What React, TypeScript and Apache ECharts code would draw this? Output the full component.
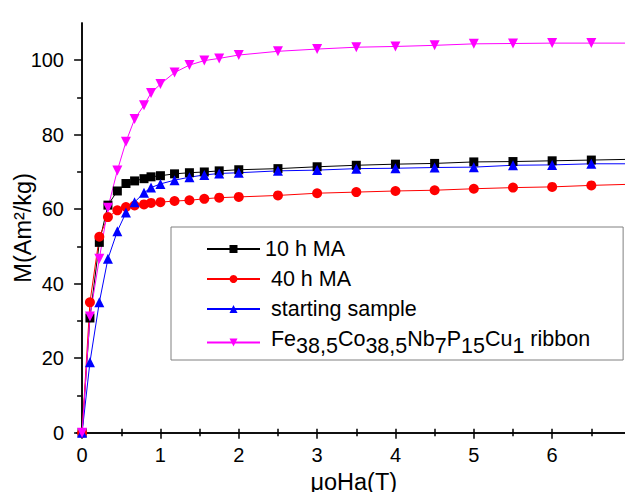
import React, { useEffect, useRef } from "react";
import * as echarts from "echarts";

const fieldT = [0, 0.1, 0.22, 0.33, 0.45, 0.56, 0.67, 0.79, 0.88, 1.0, 1.18, 1.37, 1.56, 1.75, 2.0, 2.5, 3, 3.5, 4, 4.5, 5, 5.5, 6, 6.5, 7];
const ma10 = [0, 30.8, 51.1, 61.1, 64.9, 66.9, 67.6, 68.2, 68.7, 69.0, 69.5, 69.8, 70.0, 70.3, 70.6, 70.9, 71.4, 71.8, 72.1, 72.3, 72.7, 72.8, 73.0, 73.2, 73.4];
const ma40 = [0, 35.0, 52.6, 57.9, 59.7, 60.6, 61.0, 61.3, 61.7, 61.9, 62.2, 62.4, 62.8, 63.1, 63.3, 63.7, 64.3, 64.6, 64.9, 65.1, 65.5, 65.8, 66.0, 66.4, 66.7];
const starting = [0, 18.9, 35.0, 46.7, 54.1, 59.1, 61.9, 64.4, 65.8, 66.8, 67.8, 68.6, 69.2, 69.6, 69.8, 70.3, 70.5, 70.9, 71.0, 71.2, 71.3, 71.8, 71.9, 72.2, 72.2];
const ribbon = [0, 31.2, 46.7, 60.4, 70.4, 78.1, 84.2, 87.9, 91.2, 93.6, 96.7, 98.7, 99.9, 100.5, 101.4, 102.4, 103.0, 103.5, 103.7, 104.0, 104.4, 104.5, 104.6, 104.6, 104.6];

const seriesNames = ["10 h MA", "40 h MA", "starting sample", "Fe38,5Co38,5Nb7P15Cu1 ribbon"];
const xMajor = [0, 1, 2, 3, 4, 5, 6, 7];
const xMinor = [0.5, 1.5, 2.5, 3.5, 4.5, 5.5, 6.5];
const xTop = [0, 0.5, 1, 1.5, 2, 2.5, 3, 3.5, 4, 4.5, 5, 5.5, 6, 6.5, 7];
const yMajor = [0, 20, 40, 60, 80, 100];
const yMinor = [10, 30, 50, 70, 90];

const FONT = "Arial, 'Liberation Sans', sans-serif";
const LEG_FS = 21.5;

export default function App() {
  const ref = useRef<HTMLDivElement>(null);
  useEffect(() => {
    if (!ref.current) return;
    const chart = echarts.init(ref.current, undefined, { renderer: "svg" });
    const pair = (ys: number[]) => fieldT.map((x, i) => [x, ys[i]]);
    const mk = (name: string, ys: number[], color: string, symbol: string, size: number, rotate = 0) => ({
      name,
      type: "line",
      data: pair(ys),
      symbol,
      symbolSize: size,
      symbolRotate: rotate,
      showAllSymbol: true,
      lineStyle: { color, width: 1 },
      itemStyle: { color },
      xAxisIndex: 0,
      yAxisIndex: 0,
    });
    const axisLine = { show: true, lineStyle: { color: "#000", width: 1.5 } };
    chart.setOption({
      animation: false,
      backgroundColor: "#fff",
      grid: { left: 77, right: 2.5, top: 23, bottom: 67.3, outerBoundsMode: "none" },
      legend: {
        orient: "vertical",
        left: 171,
        top: 227,
        padding: [11, 33, 3, 35],
        borderColor: "#808080",
        borderWidth: 1,
        itemWidth: 53,
        itemHeight: 10,
        itemGap: 8,
        data: seriesNames,
        formatter: (n: string) => {
          if (n === seriesNames[0]) return n;
          if (n === seriesNames[3])
            return "{n| Fe}{s|38,5}{n|Co}{s|38,5}{n|Nb}{s|7}{n|P}{s|15}{n|Cu}{s|1}{n| ribbon}";
          return " " + n;
        },
        textStyle: {
          fontSize: LEG_FS,
          fontFamily: FONT,
          color: "#000",
          rich: {
            n: { fontSize: LEG_FS, fontFamily: FONT, color: "#000", verticalAlign: "top" },
            s: { fontSize: LEG_FS, fontFamily: FONT, color: "#000", verticalAlign: "top", padding: [7, 0, 0, 0] },
          },
        },
      },
      xAxis: [
        {
          type: "value",
          position: "bottom",
          min: -0.065,
          max: 7,
          axisLine,
          axisTick: { show: true, customValues: xMajor, length: 6, lineStyle: { color: "#000", width: 1.5 } },
          axisLabel: { customValues: xMajor, fontSize: 20, fontFamily: FONT, color: "#000", margin: 12 },
          splitLine: { show: false },
          name: "μoHa(T)",
          nameLocation: "middle",
          nameGap: 37,
          nameTextStyle: { fontSize: 23.5, fontFamily: FONT, color: "#000" },
        },
        {
          type: "value",
          position: "bottom",
          min: -0.065,
          max: 7,
          axisLine: { show: false },
          axisTick: { show: true, customValues: xMinor, length: 3.5, lineStyle: { color: "#000", width: 1.5 } },
          axisLabel: { show: false },
          splitLine: { show: false },
        },
        {
          type: "value",
          position: "top",
          min: -0.065,
          max: 7,
          axisLine,
          axisTick: { show: true, customValues: xTop, length: 4, lineStyle: { color: "#000", width: 1.5 } },
          axisLabel: { show: false },
          splitLine: { show: false },
        },
      ],
      yAxis: [
        {
          type: "value",
          position: "left",
          min: 0,
          max: 110,
          axisLine,
          axisTick: { show: true, customValues: yMajor, length: 8, lineStyle: { color: "#000", width: 1.5 } },
          axisLabel: { customValues: yMajor, fontSize: 20, fontFamily: FONT, color: "#000", margin: 13 },
          splitLine: { show: false },
          name: "M(Am²/kg)",
          nameLocation: "middle",
          nameGap: 42,
          nameRotate: 90,
          nameMoveOverlap: false,
          nameTextStyle: { fontSize: 23.5, fontFamily: FONT, color: "#000" },
        },
        {
          type: "value",
          position: "left",
          min: 0,
          max: 110,
          axisLine: { show: false },
          axisTick: { show: true, customValues: yMinor, length: 5, lineStyle: { color: "#000", width: 1.5 } },
          axisLabel: { show: false },
          splitLine: { show: false },
        },
        {
          type: "value",
          position: "right",
          min: 0,
          max: 110,
          axisLine,
          axisTick: { show: false },
          axisLabel: { show: false },
          splitLine: { show: false },
        },
      ],
      series: [
        mk(seriesNames[0], ma10, "#000000", "rect", 9),
        mk(seriesNames[1], ma40, "#ff0000", "circle", 10),
        mk(seriesNames[2], starting, "#0000ff", "triangle", 10),
        mk(seriesNames[3], ribbon, "#ff00ff", "triangle", 10, 180),
      ],
    });
    return () => chart.dispose();
  }, []);
  return <div ref={ref} style={{ width: 633, height: 500, margin: -8 }} />;
}
